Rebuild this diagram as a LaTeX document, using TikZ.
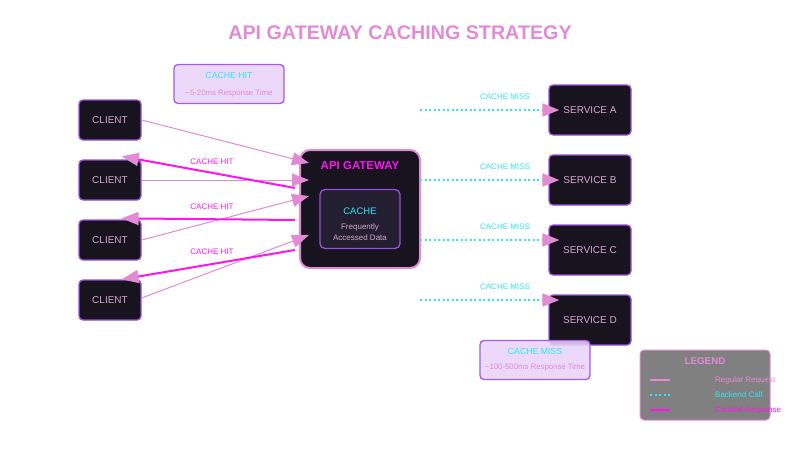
\documentclass[tikz,border=0pt]{standalone}
\usepackage{fontspec}
\setmainfont{Liberation Sans}
\usetikzlibrary{positioning,arrows.meta}

\definecolor{pinkc}{HTML}{E38AD5}
\definecolor{magc}{HTML}{FF14F0}
\definecolor{cyanc}{HTML}{2EE6F5}
\definecolor{dark}{HTML}{17131F}
\definecolor{inner}{HTML}{231E30}
\definecolor{purp}{HTML}{9B4FD8}
\definecolor{ctext}{HTML}{D6A6D0}
\definecolor{notefill}{HTML}{E9D3F8}
\definecolor{notebd}{HTML}{A65AEC}
\definecolor{legfill}{HTML}{808080}

\begin{document}
\begin{tikzpicture}[x=1pt,y=-1pt,
  box/.style={draw=purp, fill=dark, line width=1.3pt, rounded corners=4pt, text=ctext, font=\fontsize{10}{12}\selectfont},
  client/.style={box, minimum width=62pt, minimum height=40pt},
  service/.style={box, minimum width=82pt, minimum height=50pt},
  note/.style={draw=notebd, fill=notefill, fill opacity=.88, line width=1.3pt, rounded corners=4pt, minimum width=110pt, minimum height=39pt},
  tip/.style={-{Triangle[length=17pt,width=13pt,color=pinkc]}},
  req/.style={tip, draw=pinkc, line width=1pt},
  hit/.style={tip, draw=magc, line width=2pt},
  miss/.style={tip, draw=cyanc, line width=2pt, dash pattern=on 2pt off 2.5pt},
  lbl/.style={font=\fontsize{8}{9.6}\selectfont}
]
  \useasboundingbox (0,0) rectangle (800,450);
  \node[font=\bfseries\fontsize{19.7}{23}\selectfont, text=pinkc] (title) at (400,33) {API GATEWAY CACHING STRATEGY};

  % notes
  \node[note] (hitnote) at (229,84) {};
  \node[text=cyanc, font=\fontsize{8.7}{10}\selectfont] (hitnotea) at (229,76) {CACHE HIT};
  \node[lbl, text=pinkc, font=\fontsize{7.8}{9}\selectfont] (hitnoteb) at (229,93) {\textasciitilde5-20ms Response Time};

  % clients
  \node[client] (c1) at (110,120) {CLIENT};
  \node[client] (c2) at (110,180) {CLIENT};
  \node[client] (c3) at (110,240) {CLIENT};
  \node[client] (c4) at (110,300) {CLIENT};

  % gateway with cache
  \node[draw=pinkc, fill=dark, line width=2pt, rounded corners=10pt, minimum width=120pt, minimum height=118pt] (gw) at (360,209) {};
  \node[draw=purp, fill=inner, line width=1.3pt, rounded corners=5pt, minimum width=80pt, minimum height=59pt] (cache) at (360,219) {};
  \node[text=magc, font=\bfseries\fontsize{11.5}{14}\selectfont] (gwt) at (360,166) {API GATEWAY};
  \node[text=cyanc, font=\fontsize{9.5}{11}\selectfont] (cachet) at (360,211) {CACHE};
  \node[text=ctext, align=center, font=\fontsize{8}{10.5}\selectfont] (cached) at (360,232) {Frequently\\Accessed Data};

  % services
  \node[service] (sA) at (590,110) {SERVICE A};
  \node[service] (sB) at (590,180) {SERVICE B};
  \node[service] (sC) at (590,250) {SERVICE C};
  \node[service] (sD) at (590,320) {SERVICE D};

  % requests and cache hits
  \coordinate (in1) at (309,163);
  \coordinate (in2) at (309,180);
  \coordinate (in3) at (309,196);
  \coordinate (in4) at (309,235);
  \coordinate (out2) at (295,188);
  \coordinate (out3) at (295,220);
  \coordinate (out4) at (295,250);
  \draw[req] (c1.east) -- (in1);
  \draw[req] (c2.east) -- (in2);
  \draw[req] (c3.east) -- (in3);
  \draw[req] ([yshift=2pt]c4.east) -- (in4);
  \draw[hit] (out2) -- ([xshift=-20pt,yshift=3pt]c2.north east);
  \draw[hit] (out3) -- ([xshift=-20pt,yshift=1pt]c3.north east);
  \draw[hit] (out4) -- ([xshift=-20pt]c4.north east);
  \node[lbl, text=magc] (h2) at (212,162) {CACHE HIT};
  \node[lbl, text=magc] (h3) at (212,207) {CACHE HIT};
  \node[lbl, text=magc] (h4) at (212,252) {CACHE HIT};

  % cache misses
  \coordinate (m1) at (420,110);
  \coordinate (m2) at (420,180);
  \coordinate (m3) at (420,240);
  \coordinate (m4) at (420,300);
  \draw[miss] (m1) -- ([xshift=11pt]sA.west);
  \draw[miss] (m2) -- ([xshift=11pt]sB.west);
  \draw[miss] (m3) -- ([xshift=11pt,yshift=10pt]sC.west);
  \draw[miss] (m4) -- ([xshift=11pt,yshift=20pt]sD.west);
  \node[lbl, text=cyanc] (l1) at (505,97) {CACHE MISS};
  \node[lbl, text=cyanc] (l2) at (505,167) {CACHE MISS};
  \node[lbl, text=cyanc] (l3) at (505,227) {CACHE MISS};
  \node[lbl, text=cyanc] (l4) at (505,287) {CACHE MISS};

  \node[note] (missnote) at (535,360) {};
  \node[text=cyanc, font=\fontsize{8.7}{10}\selectfont] (missnotea) at (535,351) {CACHE MISS};
  \node[text=pinkc, font=\fontsize{7.8}{9}\selectfont] (missnoteb) at (535,367) {\textasciitilde100-500ms Response Time};

  % legend
  \node[draw=pinkc, fill=legfill, line width=1pt, rounded corners=4pt, minimum width=130pt, minimum height=70pt] (leg) at (705,385) {};
  \node[text=pinkc, font=\bfseries\fontsize{9.8}{12}\selectfont] (legt) at (705,361) {LEGEND};
  \coordinate (k1) at (650,380);
  \coordinate (k2) at (650,395);
  \coordinate (k3) at (650,410);
  \draw[draw=pinkc, line width=1.5pt] (k1) -- ++(20,0);
  \draw[draw=cyanc, line width=2pt, dash pattern=on 2pt off 2.5pt] (k2) -- ++(20,0);
  \draw[draw=magc, line width=2pt] (k3) -- ++(20,0);
  \node[lbl, text=pinkc, anchor=west, inner sep=0pt] (kt1) at (715,380) {Regular Request};
  \node[lbl, text=cyanc, anchor=west, inner sep=0pt] (kt2) at (715,395) {Backend Call};
  \node[lbl, text=magc, anchor=west, inner sep=0pt] (kt3) at (715,410) {Cached Response};
\end{tikzpicture}
\end{document}
